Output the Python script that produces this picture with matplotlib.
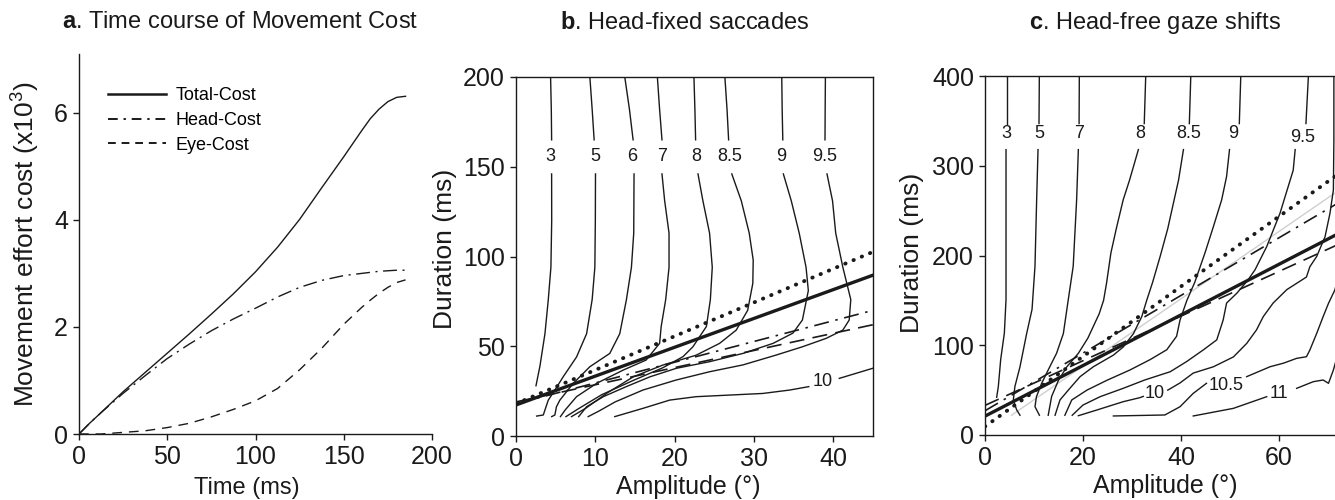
import matplotlib
matplotlib.use("Agg")
import matplotlib.pyplot as plt
from matplotlib.lines import Line2D

plt.rcParams["font.family"] = ["Liberation Sans", "DejaVu Sans"]
plt.rcParams["mathtext.fontset"] = "custom"
plt.rcParams["mathtext.rm"] = "Liberation Sans"
plt.rcParams["mathtext.bf"] = "Liberation Sans:bold"
plt.rcParams["mathtext.default"] = "regular"

# ---------------- panel a: cost time course ----------------
time_ms = [0, 6, 12.5, 25, 37.5, 50, 62.5, 75, 87.5, 100, 112.5, 125, 137.5, 150,
           160, 165, 170, 175, 180, 185]
total_cost = [0, 0.2, 0.4, 0.79, 1.15, 1.51, 1.87, 2.24, 2.62, 3.03, 3.49, 4.01, 4.6, 5.18,
              5.66, 5.89, 6.07, 6.21, 6.29, 6.31]
head_cost = [0, 0.2, 0.4, 0.76, 1.09, 1.41, 1.68, 1.93, 2.15, 2.35, 2.56, 2.74, 2.87, 2.96,
             3.0, 3.02, 3.04, 3.05, 3.06, 3.06]
eye_cost = [0, 0, 0, 0.03, 0.06, 0.12, 0.2, 0.32, 0.46, 0.62, 0.85, 1.2, 1.6, 2.05,
            2.36, 2.5, 2.63, 2.74, 2.83, 2.88]

# ---------------- panel b: head-fixed saccades (amplitude deg, duration ms) ----------------
b_3 = [[(4.36, 200), (4.45, 182), (4.49, 165)],
       [(4.49, 146), (4.50, 120), (4.40, 94), (4.07, 76), (3.65, 57), (3.02, 39), (2.52, 28)]]
b_5 = [[(9.31, 200), (9.60, 182), (9.85, 165)],
       [(10.02, 146), (10.0, 120), (9.94, 94), (9.6, 76), (8.9, 57), (7.63, 44), (5.95, 33),
        (4.9, 25.6), (4.07, 20), (3.65, 14.5), (3.44, 11.7), (2.6, 11.1)]]
b_6 = [[(13.71, 200), (14.3, 182), (14.76, 165)],
       [(14.88, 146), (14.84, 113), (14.55, 94), (13.92, 76), (13.08, 57), (11.82, 46),
        (9.31, 38.6), (7.21, 29.3), (5.53, 20), (5.1, 16.3), (4.9, 11.7), (4.5, 10.8)]]
b_7 = [[(17.82, 200), (18.1, 182), (18.4, 165)],
       [(18.4, 146), (18.74, 131), (19.29, 113), (19.29, 94), (18.87, 76), (18.3, 61),
        (18.1, 51.6), (16.4, 42.3), (13.5, 36.7), (10.15, 29.3), (7.63, 21.9), (6.2, 14.5),
        (5.6, 10.8)]]
b_8 = [[(22.43, 200), (22.55, 182), (22.64, 165)],
       [(22.94, 146), (23.56, 131), (24.4, 113), (24.74, 94), (24.5, 76), (24.0, 61),
        (22.3, 49.7), (21.05, 44.2), (18.5, 38.0), (14.8, 31.0), (10.8, 23.0), (7.8, 15.0),
        (6.3, 10.8)]]
b_85 = [[(26.33, 200), (26.6, 182), (26.8, 165)],
        [(27.2, 146), (28.4, 131), (29.4, 113), (29.9, 98), (29.85, 85), (29.2, 70),
         (27.76, 59), (25.66, 51.6), (22.7, 45.0), (18.5, 39.5), (14.8, 33.0), (11.5, 24.0),
         (8.8, 15.5), (7.0, 10.8)]]
b_9 = [[(33.5, 200), (33.55, 182), (33.63, 165)],
       [(33.7, 146), (34.7, 131), (35.7, 113), (36.56, 94), (36.85, 81), (36.1, 64.6),
        (34.9, 57.3), (32.4, 51.6), (28.6, 46.0), (24.4, 41.4), (20.2, 37.7), (16.9, 33.0),
        (13.9, 27.5), (11.0, 21.9), (8.9, 16.3), (7.9, 10.8)]]
b_95 = [[(39.0, 200), (38.97, 182), (38.95, 165)],
        [(39.2, 146), (39.9, 131), (40.3, 113), (41.2, 94), (42.2, 76), (42.0, 64.6),
         (41.2, 59.0), (39.1, 54.4), (36.1, 49.7), (32.8, 45.1), (28.6, 39.6), (24.4, 35.8),
         (20.2, 31.2), (16.0, 25.6), (12.5, 19.0), (10.5, 14.0), (9.1, 10.8)]]
b_10 = [[(12.45, 10.8), (16.0, 15.4), (19.37, 20), (22.7, 21.9), (26.9, 22.8), (31.1, 23.7),
         (34.5, 25.6), (36.9, 27.5)],
        [(40.75, 32.1), (44.95, 37.7)]]

B_LEVELS = ["3", "5", "6", "7", "8", "8.5", "9", "9.5", "10"]
B_SEGMENTS = [b_3, b_5, b_6, b_7, b_8, b_85, b_9, b_95, b_10]
B_LABEL_POS = [(4.3, 155.5), (9.95, 155.5), (14.6, 155.5), (18.4, 155.5), (22.7, 155.5),
               (26.9, 155.5), (33.4, 155.5), (38.9, 155.5), (38.6, 30.2)]

# fitted main-sequence lines (amplitude endpoints, duration endpoints)
b_fit_amp = [0, 45]
b_fit_dotted = [18.0, 102.6]
b_fit_solid = [17.3, 89.6]
b_fit_dashdot = [18.0, 70.0]
b_fit_dashed = [19.0, 62.0]

# ---------------- panel c: head-free gaze shifts ----------------
c_3 = [[(4.42, 400), (4.42, 347)],
       [(4.29, 318), (4.29, 151), (3.95, 113.5), (3.2, 84), (2.72, 54), (2.38, 42)]]
c_5 = [[(11.09, 400), (11.02, 347)],
       [(10.82, 318), (10.54, 262), (10.2, 188), (9.6, 140), (8.5, 113), (7.14, 76),
        (6.1, 54), (5.78, 39), (6.46, 28), (7.14, 22)]]
c_7 = [[(19.25, 400), (19.2, 347)],
       [(19.05, 318), (18.7, 262), (18.0, 188), (17.0, 151), (15.99, 113), (14.6, 91),
        (12.9, 72.5), (11.56, 57.6), (10.5, 42.7), (10.2, 31.6), (11.1, 22)]]
c_8 = [[(32.8, 400), (32.5, 347)],
       [(31.3, 318), (29.5, 284), (28.2, 262), (26.8, 230), (25.7, 203), (24.8, 169),
        (24.2, 150), (23.3, 135), (21.0, 108), (19.05, 91), (16.7, 76), (15.0, 61),
        (13.6, 43), (12.9, 22)]]
c_85 = [[(42.0, 400), (41.7, 347)],
        [(40.5, 318), (39.5, 284), (38.6, 262), (37.3, 230), (35.8, 200), (34.2, 170),
         (33.0, 150), (32.0, 132), (30.3, 113), (28.2, 98), (26.2, 89), (22.1, 76),
         (19.4, 65), (17.0, 50), (15.3, 39), (14.3, 22)]]
c_9 = [[(52.2, 400), (51.9, 347)],
       [(49.9, 318), (49.3, 288), (48.3, 262), (46.6, 232), (44.9, 203), (42.8, 170),
        (41.2, 150), (39.8, 128), (39.1, 110), (37.1, 95), (33.7, 84), (29.6, 72.5),
        (24.9, 61), (20.8, 50), (17.7, 39), (16.3, 22)]]
c_95 = [[(66.0, 400), (65.5, 347)],
        [(63.3, 318), (62.9, 295), (60.2, 247), (57.5, 210), (55.1, 184), (53.7, 173),
         (51.4, 158), (49.3, 147), (48.6, 128), (47.3, 106), (44.6, 95), (41.2, 82),
         (37.8, 70.5), (32.6, 61.3), (28.2, 52), (23.5, 42.7), (20.0, 33.4), (17.8, 22)]]
c_10 = [[(71.2, 400), (71.2, 330), (71.1, 273), (70.4, 247), (69.4, 221), (67.7, 199),
         (66.3, 187.5), (65.6, 176), (63.6, 169), (61.6, 162), (58.8, 147), (56.8, 132),
         (55.4, 117), (53.4, 102), (50.7, 87), (46.6, 76), (42.5, 69), (39.8, 58),
         (37.3, 50)],
        [(32.3, 43), (31.6, 41.6), (28.2, 37.1), (22.8, 27.8), (19.05, 21.5)]]
c_105 = [[(26.2, 21.2), (36.7, 22.3), (39.8, 31.5), (42.5, 46.4), (45.2, 57.6)],
         [(53.4, 65), (58.2, 76.1), (60.9, 80), (63.6, 85.4), (65.6, 87.2), (66.3, 94.7),
          (67.7, 113.3), (69.0, 131.8), (70.1, 146.7), (71.4, 161.6), (72.5, 185)]]
c_11 = [[(42.5, 21.2), (50.7, 29.7), (57.5, 42.7)],
        [(63.6, 52), (67.0, 59.4), (69.0, 61.3), (70.1, 57.6), (71.1, 72.4), (72.5, 100)]]

C_LEVELS = ["3", "5", "7", "8", "8.5", "9", "9.5", "10", "10.5", "11"]
C_SEGMENTS = [c_3, c_5, c_7, c_8, c_85, c_9, c_95, c_10, c_105, c_11]
C_LABEL_POS = [(4.4, 336), (11.1, 336), (19.1, 336), (31.6, 336), (41.5, 336), (50.7, 336),
               (64.8, 332), (34.7, 46.4), (49.3, 55.7), (59.9, 46.4)]

c_fit_amp = [0, 80]
c_fit_dotted = [9.5, 321.5]
c_fit_solid = [21.0, 246.6]
c_fit_dashdot = [27.0, 284.0]
c_fit_dashed = [33.0, 232.0]
c_gray_amp = [5.4, 80]
c_gray_dur = [22.0, 301.8]

W, H = 1335, 500
INK = "#1a1a1a"
TICK_FS = 18


def style_axes(ax, full_box):
    for side in ["top", "right"]:
        ax.spines[side].set_visible(full_box)
    for sp in ax.spines.values():
        sp.set_linewidth(1.0)
        sp.set_color(INK)
    ax.tick_params(direction="out", length=4, width=1.0, labelsize=TICK_FS,
                   colors=INK, pad=4, top=False, right=False)


def draw_fits(ax, amp, dotted, solid, dashdot, dashed):
    ax.plot(amp, dotted, color=INK, lw=2.8, linestyle=(0, (0.1, 2.2)),
            dash_capstyle="round", zorder=3)
    ax.plot(amp, solid, color=INK, lw=2.4, zorder=3)
    ax.plot(amp, dashdot, color=INK, lw=1.2, linestyle=(0, (9, 4, 1.5, 4)), zorder=3)
    ax.plot(amp, dashed, color=INK, lw=1.2, linestyle=(0, (9, 5)), zorder=3)


def draw_contours(ax, segments, levels, label_pos):
    for segs in segments:
        for seg in segs:
            amp, dur = zip(*seg)
            ax.plot(amp, dur, color=INK, lw=1.0, zorder=2)
    for lev, (x, y) in zip(levels, label_pos):
        ax.text(x, y, lev, ha="center", va="center", fontsize=13, color=INK)


fig = plt.figure(figsize=(W / 100, H / 100), dpi=100)

# panel a
ax_a = fig.add_axes([79 / W, 66 / H, 353 / W, 380 / H])
ax_a.plot(time_ms, total_cost, color=INK, lw=1.0)
ax_a.plot(time_ms, head_cost, color=INK, lw=1.0, linestyle=(0, (10, 4, 1.5, 4)))
ax_a.plot(time_ms, eye_cost, color=INK, lw=1.0, linestyle=(0, (7, 5)))
ax_a.set_xlim(0, 200)
ax_a.set_ylim(0, 7.1)
ax_a.set_xticks([0, 50, 100, 150, 200])
ax_a.set_yticks([0, 2, 4, 6])
style_axes(ax_a, False)
ax_a.set_xlabel("Time (ms)", fontsize=17, color=INK)
ax_a.xaxis.set_label_coords(0.476, -0.113)
ax_a.set_ylabel("Movement effort cost (x10$^3$)", fontsize=19, color=INK)
ax_a.yaxis.set_label_coords(-0.105, 0.5)
handles = [Line2D([], [], color=INK, lw=1.8),
           Line2D([], [], color=INK, lw=1.4, linestyle=(0, (5, 3, 1.2, 3))),
           Line2D([], [], color=INK, lw=1.4, linestyle=(0, (4, 3)))]
ax_a.legend(handles, ["Total-Cost", "Head-Cost", "Eye-Cost"], loc="upper left",
            bbox_to_anchor=(0.082, 0.912), frameon=False, fontsize=13, handlelength=3.2,
            handletextpad=0.55, labelspacing=0.42, borderpad=0, borderaxespad=0)

# panel b
ax_b = fig.add_axes([516 / W, 64 / H, 357 / W, 359 / H])
draw_contours(ax_b, B_SEGMENTS, B_LEVELS, B_LABEL_POS)
draw_fits(ax_b, b_fit_amp, b_fit_dotted, b_fit_solid, b_fit_dashdot, b_fit_dashed)
ax_b.set_xlim(0, 45)
ax_b.set_ylim(0, 200)
ax_b.set_xticks([0, 10, 20, 30, 40])
ax_b.set_yticks([0, 50, 100, 150, 200])
style_axes(ax_b, True)
ax_b.set_xlabel("Amplitude (°)", fontsize=18, color=INK)
ax_b.xaxis.set_label_coords(0.482, -0.108)
ax_b.set_ylabel("Duration (ms)", fontsize=19, color=INK)
ax_b.yaxis.set_label_coords(-0.165, 0.52)

# panel c (cropped at the right edge of the figure)
ax_c = fig.add_axes([985 / W, 65 / H, 392 / W, 359 / H])
ax_c.plot(c_gray_amp, c_gray_dur, color="#cfcfcf", lw=1.0, zorder=1)
draw_contours(ax_c, C_SEGMENTS, C_LEVELS, C_LABEL_POS)
draw_fits(ax_c, c_fit_amp, c_fit_dotted, c_fit_solid, c_fit_dashdot, c_fit_dashed)
ax_c.set_xlim(0, 80)
ax_c.set_ylim(0, 400)
ax_c.set_xticks([0, 20, 40, 60])
ax_c.set_yticks([0, 100, 200, 300, 400])
style_axes(ax_c, True)
ax_c.set_xlabel("Amplitude (°)", fontsize=18, color=INK)
ax_c.xaxis.set_label_coords(0.459, -0.108)
ax_c.set_ylabel("Duration (ms)", fontsize=19, color=INK)
ax_c.yaxis.set_label_coords(-0.155, 0.507)

# panel titles
fig.text(240 / W, 1 - 22 / H, r"$\mathbf{a}$. Time course of Movement Cost",
         ha="center", va="center", fontsize=17, color=INK)
fig.text(685 / W, 1 - 23 / H, r"$\mathbf{b}$. Head-fixed saccades",
         ha="center", va="center", fontsize=17, color=INK)
fig.text(1155 / W, 1 - 23 / H, r"$\mathbf{c}$. Head-free gaze shifts",
         ha="center", va="center", fontsize=17, color=INK)

fig.savefig("out.png", dpi=100)
plt.close(fig)
